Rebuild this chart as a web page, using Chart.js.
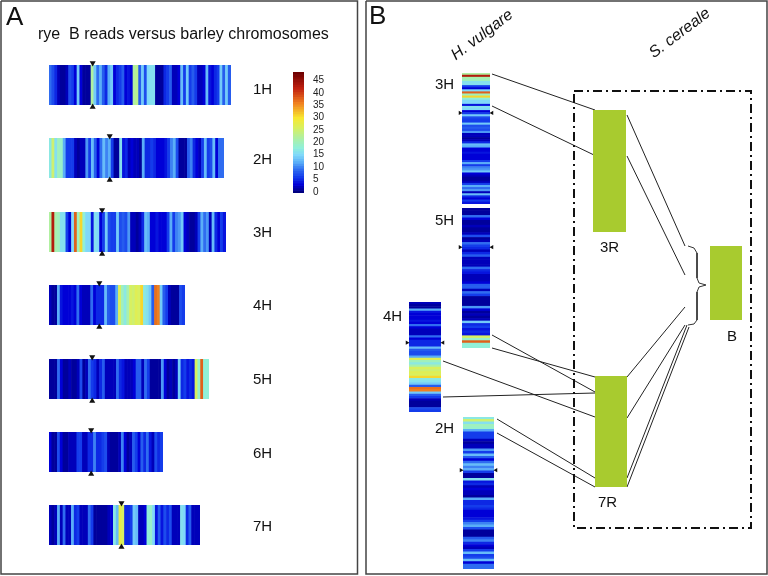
<!DOCTYPE html>
<html>
<head>
<meta charset="utf-8">
<script src="https://cdn.jsdelivr.net/npm/chart.js@4"></script>
<style>
  html, body { margin: 0; padding: 0; background: #fff; }
  #page { position: relative; width: 768px; height: 576px; overflow: hidden; }
  #page canvas { position: absolute; }
  canvas.strip { filter: blur(0.7px); }
</style>
</head>
<body>
<div id="page"></div>
<script>
// reads per bin along each barley chromosome
const reads1H = [9,7,5,2,1,1,2,7,6,3,14,3,1,1,1,22,14,9,12,8,5,12,14,3,5,6,8,3,4,3,22,23,8,14,7,15,16,16,1,1,1,5,6,8,2,2,3,13,6,14,6,8,6,2,2,3,13,4,3,5,6,14,8,14,8];
const reads2H = [17,25,16,20,19,12,6,6,6,2,1,2,2,11,6,13,8,3,9,13,10,12,6,1,1,16,4,5,2,3,2,2,1,12,5,5,6,5,3,3,3,4,6,10,12,7,1,1,1,8,10,5,3,2,6,13,6,7,13,3,9,9];
const reads3H = [22,43,21,20,16,16,6,3,15,38,20,31,18,15,15,4,16,15,3,6,14,7,6,6,14,7,8,7,11,2,2,1,2,5,13,12,3,3,4,3,3,3,6,12,6,10,11,14,3,2,1,1,2,6,12,9,11,2,13,5,3,6,4];
const reads4H = [2,1,1,12,4,3,3,3,4,3,9,3,2,2,2,9,3,5,5,5,13,8,7,7,12,27,20,17,21,26,25,27,26,31,17,16,14,8,37,36,14,8,6,2,1,1,1,7,6];
const reads5H = [1,1,1,9,3,1,1,2,1,1,2,7,1,2,9,6,5,2,5,8,2,2,2,2,9,5,4,2,2,2,3,8,8,2,9,6,1,1,1,1,11,3,1,2,1,2,14,5,6,4,5,4,26,19,38,18,18];
const reads6H = [3,1,1,7,3,1,1,2,2,2,6,6,2,2,5,5,10,5,5,6,7,2,1,1,1,2,10,3,1,2,8,6,3,8,5,9,4,2,7,5,6];
const reads7H = [2,1,2,12,2,9,2,2,12,5,6,2,2,2,9,6,1,1,1,1,1,2,3,17,13,28,26,5,5,6,14,13,2,2,3,18,19,15,4,8,4,7,5,7,2,2,2,16,15,5,8,2,2,2];

const scaleSteps = [0,1,2,3,4,5,6,7,8,9,10,11,12,13,14,15,16,17,18,19,20,21,22,23,24,25,26,27,28,29,30,31,32,33,34,35,36,37,38,39,40,41,42,43,44,45,46,47,48];

// colour stops as they look in the figure
const colourStops = [
  [0, 0, 0, 127], [3, 0, 0, 215], [6, 20, 60, 235], [9, 47, 108, 240], [12, 90, 174, 248],
  [15, 128, 216, 250], [18, 144, 240, 216], [22, 176, 240, 160], [26, 216, 240, 96],
  [30, 248, 232, 48], [36, 240, 128, 32], [42, 192, 32, 16], [48, 112, 0, 0]
];

function heat(v) {
  let i = 0;
  while (i < colourStops.length - 2 && v > colourStops[i + 1][0]) i++;
  const a = colourStops[i], b = colourStops[i + 1];
  const t = Math.min(1, (v - a[0]) / (b[0] - a[0]));
  const mix = k => Math.round(a[k] + (b[k] - a[k]) * t);
  return `rgb(${mix(1)},${mix(2)},${mix(3)})`;
}

function addCanvas(x, y, w, h, cls) {
  const c = document.createElement('canvas');
  c.width = w;
  c.height = h;
  c.style.left = x + 'px';
  c.style.top = y + 'px';
  c.style.width = w + 'px';
  c.style.height = h + 'px';
  if (cls) c.className = cls;
  document.getElementById('page').appendChild(c);
  return c;
}

// one chromosome drawn as a row (or column) of touching bars
function drawStrip(values, x, y, w, h, vertical) {
  new Chart(addCanvas(x, y, w, h, 'strip'), {
    type: 'bar',
    data: {
      labels: values.map((v, i) => i),
      datasets: [{
        data: values.map(() => 1),
        backgroundColor: values.map(heat),
        barPercentage: 1,
        categoryPercentage: 1,
        borderWidth: 0
      }]
    },
    options: {
      indexAxis: vertical ? 'y' : 'x',
      responsive: false,
      animation: false,
      layout: { padding: 0 },
      plugins: { legend: { display: false }, tooltip: { enabled: false } },
      scales: {
        x: vertical ? { display: false, min: 0, max: 1 } : { display: false },
        y: vertical ? { display: false } : { display: false, min: 0, max: 1 }
      }
    }
  });
}

// panel A rows
const rowsA = [
  { name: '1H', values: reads1H, x: 49, y: 65, w: 182, cen: 0.24 },
  { name: '2H', values: reads2H, x: 49, y: 138, w: 175, cen: 0.347 },
  { name: '3H', values: reads3H, x: 49, y: 212, w: 177, cen: 0.30 },
  { name: '4H', values: reads4H, x: 49, y: 285, w: 136, cen: 0.37 },
  { name: '5H', values: reads5H, x: 49, y: 359, w: 160, cen: 0.27 },
  { name: '6H', values: reads6H, x: 49, y: 432, w: 114, cen: 0.37 },
  { name: '7H', values: reads7H, x: 49, y: 505, w: 151, cen: 0.48 }
];
// panel B columns
const colsB = [
  { values: reads3H, x: 462, y: 73, w: 28, h: 131, cen: 0.305 },
  { values: reads5H, x: 462, y: 208, w: 28, h: 140, cen: 0.28 },
  { values: reads4H, x: 409, y: 302, w: 32, h: 110, cen: 0.37 },
  { values: reads2H, x: 463, y: 417, w: 31, h: 152, cen: 0.35 }
];

rowsA.forEach(r => drawStrip(r.values, r.x, r.y, r.w, 40, false));
colsB.forEach(c => drawStrip(c.values, c.x, c.y, c.w, c.h, true));

// colour key
new Chart(addCanvas(293, 65, 37, 135), {
  type: 'bar',
  data: {
    labels: scaleSteps,
    datasets: [{
      data: scaleSteps.map(() => 1),
      backgroundColor: scaleSteps.map(heat),
      barPercentage: 1,
      categoryPercentage: 1,
      borderWidth: 0
    }]
  },
  options: {
    indexAxis: 'y',
    responsive: false,
    animation: false,
    layout: { padding: 0, autoPadding: false },
    plugins: { legend: { display: false }, tooltip: { enabled: false } },
    scales: {
      x: { display: false, min: 0, max: 1 },
      y: {
        position: 'right',
        reverse: true,
        grid: { display: false },
        border: { display: false },
        afterFit: s => { s.width = 26; },
        ticks: {
          autoSkip: false,
          maxRotation: 0,
          padding: 1,
          color: '#222',
          font: { family: '"Liberation Sans Narrow", "Liberation Sans"', size: 10 },
          callback: (v, i) => (scaleSteps[i] % 5 === 0 ? String(scaleSteps[i]) : '')
        }
      }
    }
  }
});

// everything else lives on one overlay in page coordinates
const texts = [
  { t: 'A', x: 6, y: 18, size: 26 },
  { t: 'B', x: 369, y: 17, size: 26 },
  { t: 'rye  B reads versus barley chromosomes', x: 38, y: 35, size: 16 },
  { t: '1H', x: 253, y: 90, size: 15 },
  { t: '2H', x: 253, y: 160, size: 15 },
  { t: '3H', x: 253, y: 233, size: 15 },
  { t: '4H', x: 253, y: 306, size: 15 },
  { t: '5H', x: 253, y: 380, size: 15 },
  { t: '6H', x: 253, y: 454, size: 15 },
  { t: '7H', x: 253, y: 527, size: 15 },
  { t: '3H', x: 435, y: 85, size: 15 },
  { t: '5H', x: 435, y: 221, size: 15 },
  { t: '4H', x: 383, y: 317, size: 15 },
  { t: '2H', x: 435, y: 429, size: 15 },
  { t: '3R', x: 600, y: 248, size: 15 },
  { t: '7R', x: 598, y: 503, size: 15 },
  { t: 'B', x: 727, y: 337, size: 15 },
  { t: 'H. vulgare', x: 453, y: 57, size: 16, italic: true, rot: -37 },
  { t: 'S. cereale', x: 651, y: 55, size: 16, italic: true, rot: -37 }
];

const labelPlugin = {
  id: 'labels',
  afterDatasetsDraw(chart) {
    const ctx = chart.ctx;
    ctx.save();
    ctx.fillStyle = '#111';
    ctx.textBaseline = 'middle';
    texts.forEach(l => {
      ctx.save();
      ctx.translate(chart.scales.x.getPixelForValue(l.x), chart.scales.y.getPixelForValue(l.y));
      if (l.rot) ctx.rotate(l.rot * Math.PI / 180);
      ctx.font = (l.italic ? 'italic ' : '') + l.size + 'px "Liberation Sans"';
      ctx.fillText(l.t, 0, 0);
      ctx.restore();
    });
    ctx.restore();
  }
};

function seg(x1, y1, x2, y2) {
  return { data: [{ x: x1, y: y1 }, { x: x2, y: y2 }], showLine: true, borderColor: '#222', borderWidth: 1, pointRadius: 0 };
}
function outline(x1, y1, x2, y2, color, width, dash) {
  return {
    data: [{ x: x1, y: y1 }, { x: x2, y: y1 }, { x: x2, y: y2 }, { x: x1, y: y2 }, { x: x1, y: y1 }],
    showLine: true, borderColor: color, borderWidth: width, borderDash: dash || [], pointRadius: 0
  };
}
function greenBox(x1, y1, x2, y2) {
  return {
    data: [{ x: x1, y: y1 }, { x: x2, y: y1 }],
    showLine: true, borderWidth: 0, pointRadius: 0,
    fill: { target: { value: y2 } },
    backgroundColor: '#A8CB2F'
  };
}
function markers(points, rotation, radius) {
  return {
    data: points, pointStyle: 'triangle', pointRotation: rotation,
    pointRadius: radius, backgroundColor: '#111', borderWidth: 0
  };
}

const overlayData = [
  outline(1, 1, 357.5, 574, '#444', 1.5),
  outline(366, 1, 767, 574, '#444', 1.5),
  outline(574, 91, 751, 528, '#111', 2, [9, 4, 2, 4]),
  greenBox(593, 110, 626, 232),
  greenBox(595, 376, 627, 487),
  greenBox(710, 246, 742, 320),
  seg(492, 74, 595, 110),
  seg(492, 106, 594, 155),
  seg(492, 335, 595, 392),
  seg(492, 348, 595, 377),
  seg(443, 361, 595, 417),
  seg(443, 397, 595, 393),
  seg(497, 419, 595, 478),
  seg(497, 433, 595, 487),
  seg(627, 115, 685, 246),
  seg(627, 156, 685, 275),
  seg(627, 377, 685, 307),
  seg(627, 418, 685, 325),
  seg(627, 478, 687, 325),
  seg(627, 487, 689, 327),
  {
    data: [{ x: 688, y: 246 }, { x: 694, y: 248 }, { x: 697, y: 253 }, { x: 697, y: 278 }, { x: 699, y: 283 }, { x: 706, y: 285 },
           { x: 699, y: 287 }, { x: 697, y: 292 }, { x: 697, y: 320 }, { x: 694, y: 324 }, { x: 688, y: 325 }],
    showLine: true, borderColor: '#333', borderWidth: 1, pointRadius: 0
  },
  markers(rowsA.map(r => ({ x: r.x + r.cen * r.w, y: r.y - 2 })), 180, 3.5),
  markers(rowsA.map(r => ({ x: r.x + r.cen * r.w, y: r.y + 42 })), 0, 3.5),
  markers(colsB.map(c => ({ x: c.x - 2, y: c.y + c.cen * c.h })), 90, 2.5),
  markers(colsB.map(c => ({ x: c.x + c.w + 2, y: c.y + c.cen * c.h })), -90, 2.5)
];

new Chart(addCanvas(0, 0, 768, 576), {
  type: 'scatter',
  data: { datasets: overlayData },
  options: {
    responsive: false,
    animation: false,
    layout: { padding: 0, autoPadding: false },
    plugins: { legend: { display: false }, tooltip: { enabled: false } },
    scales: {
      x: { display: false, min: 0, max: 768 },
      y: { display: false, min: 0, max: 576, reverse: true }
    }
  },
  plugins: [labelPlugin]
});
</script>
</body>
</html>
